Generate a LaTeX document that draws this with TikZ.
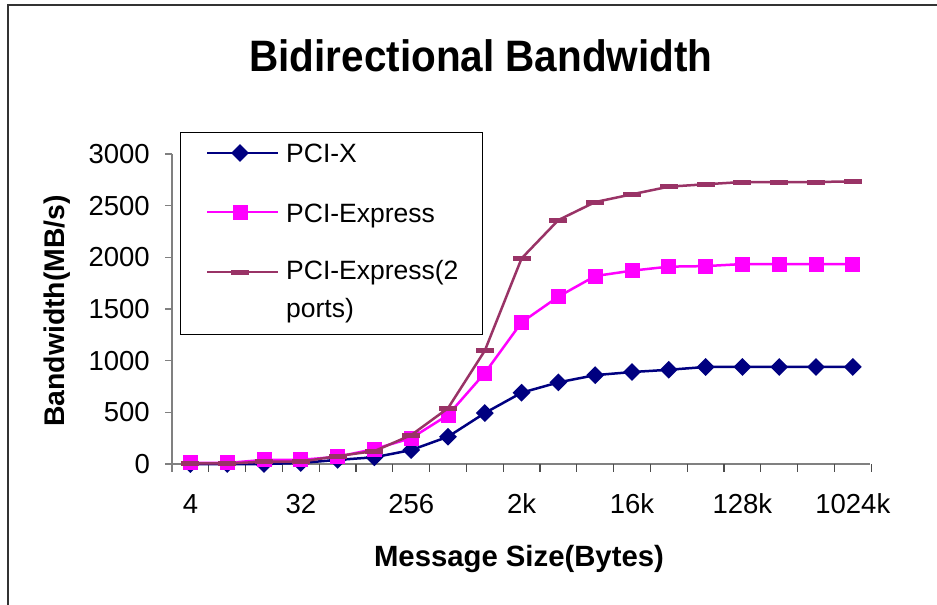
\documentclass[tikz,border=0pt]{standalone}
\usepackage{fontspec}
\setmainfont{Liberation Sans}
\usepackage{xcolor}
\usepackage{tikz}
\usetikzlibrary{shapes.geometric}

\definecolor{pcix}{HTML}{000080}
\definecolor{pcie}{HTML}{FF00FF}
\definecolor{pcietwo}{HTML}{993366}
\definecolor{axisgray}{HTML}{808080}

\begin{document}
\begin{tikzpicture}[x=1pt, y=-1pt, every node/.style={inner sep=0pt},
  ticklbl/.style={font=\fontsize{27.5}{30}\selectfont},
  axtitle/.style={font=\bfseries\fontsize{29.3}{32}\selectfont},
  legtext/.style={font=\fontsize{26.5}{38}\selectfont, align=left},
  xline/.style={pcix, line width=2.5pt, line join=round},
  eline/.style={pcie, line width=2.5pt, line join=round},
  tline/.style={pcietwo, line width=2.5pt, line join=round},
  xmark/.style={diamond, fill=pcix, minimum size=18pt},
  emark/.style={rectangle, fill=pcie, minimum size=15pt},
  tmark/.style={rectangle, fill=pcietwo, minimum width=18pt, minimum height=5pt}]
  \useasboundingbox (0,0) rectangle (937,605);

  % frame and title
  \draw[line width=2pt, black!80] (8,605) -- (8,5) -- (937,5);
  \node[anchor=base, xscale=0.92, font=\bfseries\fontsize{44}{48}\selectfont] (title) at (481,71) {Bidirectional Bandwidth};

  % axes
  \draw[axisgray, line width=1.5pt] (172,154) -- (172,472);
  \draw[axisgray, line width=1.5pt] (165,464) -- (870.4,464);
  \foreach \t [count=\k from 0] in {0,500,...,3000} {
    \draw[axisgray, line width=1.2pt] (165,464-0.10333*\t) -- (172,464-0.10333*\t);
    \node[ticklbl, anchor=east] (ylbl-\k) at (150,464-0.10333*\t) {\t};
  }
  \foreach \k in {1,...,19}
    \draw[black!70, line width=1.2pt] (172+36.8*\k,464) -- (172+36.8*\k,472);
  \foreach \s [count=\k from 0] in {4,32,256,2k,16k,128k,1024k}
    \node[ticklbl, anchor=base] (xlbl-\k) at (190.4+110.4*\k,513) {\s};

  \node[axtitle, anchor=base] (xtitle) at (519,566) {Message Size(Bytes)};
  \node[font=\bfseries\fontsize{28.4}{32}\selectfont, rotate=90] (ytitle) at (57,311) {Bandwidth(MB/s)};

  % data
  \begin{scope}[shift={(190.4,464)}, x=36.8pt, y=0.10333pt]
    \foreach \v [count=\i from 0] in {0,0,0,10,40,65,135,264,493,690,790,860,890,912,939,939,939,939,939}
      \coordinate (px-\i) at (\i,\v);
    \foreach \v [count=\i from 0] in {10,10,40,40,70,145,250,474,880,1371,1620,1819,1871,1910,1915,1935,1935,1935,1935}
      \coordinate (pe-\i) at (\i,\v);
    \foreach \v [count=\i from 0] in {5,5,22,22,77,125,280,540,1097,1990,2361,2535,2610,2684,2707,2729,2729,2729,2735}
      \coordinate (pt-\i) at (\i,\v);
  \end{scope}
  \draw[xline] (px-0) \foreach \i in {1,...,18} { -- (px-\i) };
  \foreach \i in {0,...,18} \node[xmark] (mx-\i) at (px-\i) {};
  \draw[eline] (pe-0) \foreach \i in {1,...,18} { -- (pe-\i) };
  \foreach \i in {0,...,18} \node[emark] (me-\i) at (pe-\i) {};
  \draw[tline] (pt-0) \foreach \i in {1,...,18} { -- (pt-\i) };
  \foreach \i in {0,...,18} \node[tmark] (mt-\i) at (pt-\i) {};

  % legend
  \draw[fill=white, line width=1pt] (180,132) rectangle (482,334);
  \coordinate (l1a) at (207,153); \coordinate (l1b) at (278,153);
  \coordinate (l2a) at (207,212); \coordinate (l2b) at (278,212);
  \coordinate (l3a) at (207,272); \coordinate (l3b) at (278,272);
  \draw[xline] (l1a) -- (l1b);
  \node[xmark] (lm1) at (240,153) {};
  \draw[eline] (l2a) -- (l2b);
  \node[emark] (lm2) at (240,212) {};
  \draw[tline] (l3a) -- (l3b);
  \node[tmark] (lm3) at (240,272) {};
  \node[legtext, anchor=base west] (leg1) at (286,162) {PCI-X};
  \node[legtext, anchor=base west] (leg2) at (286,222) {PCI-Express};
  \node[legtext, anchor=base west] (leg3) at (286,317) {PCI-Express(2\\ports)};
\end{tikzpicture}
\end{document}
